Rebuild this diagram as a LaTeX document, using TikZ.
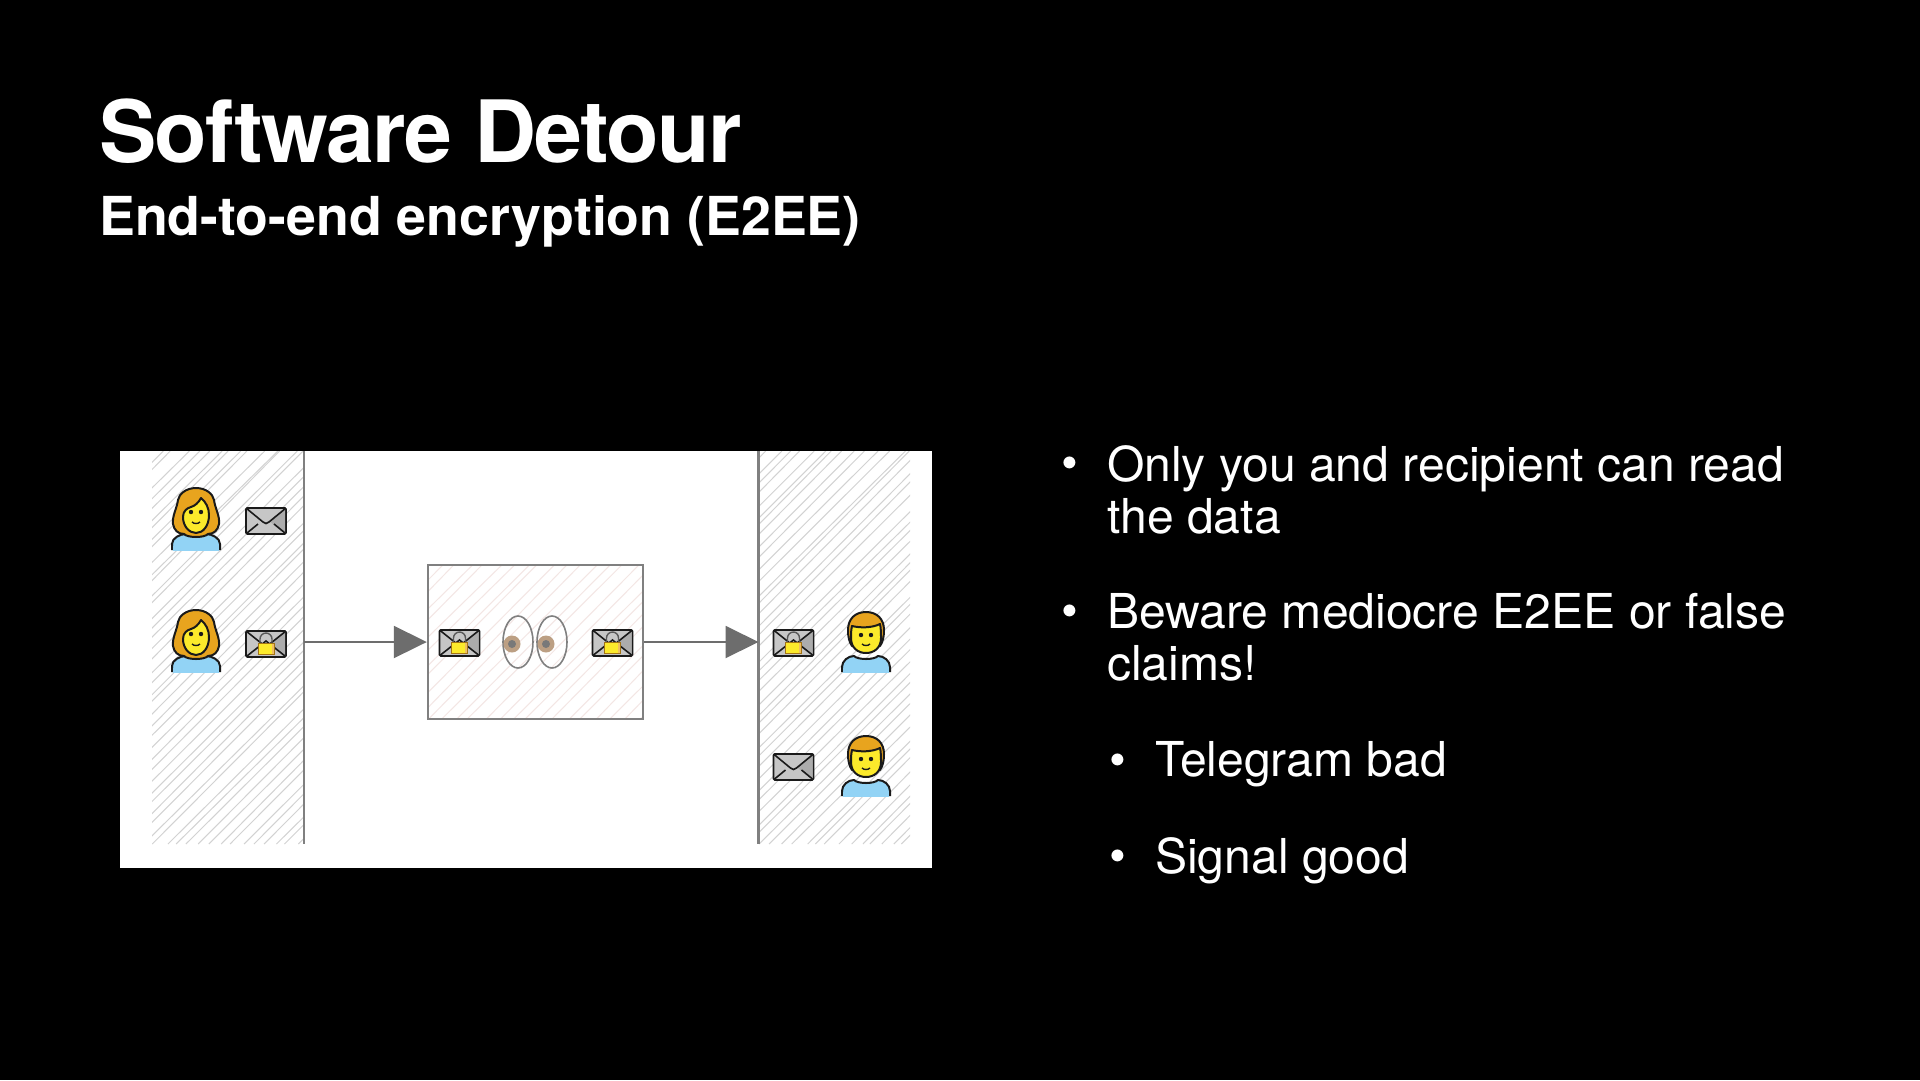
\documentclass[tikz,border=0pt]{standalone}
\usepackage{fontspec}
\setmainfont{TeX Gyre Heros}
\usetikzlibrary{arrows.meta, positioning, shapes.geometric}

\definecolor{hairwoman}{HTML}{E8A41E}
\definecolor{skinface}{HTML}{FCEA2B}
\definecolor{shirtblue}{HTML}{92D3F5}
\definecolor{inkdark}{HTML}{1A1A1A}
\definecolor{wallgray}{HTML}{808080}
\definecolor{hatchgray}{HTML}{D2D2D2}
\definecolor{hatchpink}{HTML}{F3E6E4}

% rough hatching of a zone: x1, y1, x2, y2, colour, spacing
\newcommand{\hatchzone}[6]{
    \begin{scope}
        \clip (#1,#2) rectangle (#3,#4);
        \pgfmathsetmacro{\hatchstart}{#1-(#4-#2)}
        \pgfmathsetmacro{\hatchnext}{\hatchstart+#6}
        \foreach \hx in {\hatchstart,\hatchnext,...,#3} {
            \pgfmathsetmacro{\jitA}{rand*3}
            \pgfmathsetmacro{\jitB}{rand*5}
            \draw[#5, line width=1pt] (\hx+\jitA,#4) -- (\hx+#4-#2+\jitB,#2);
        }
    \end{scope}
}

\begin{document}
\begin{tikzpicture}[
    x=1pt, y=-1pt,
    every node/.style={align=flush left, inner sep=0pt, text=white},
    title/.style={font=\fontsize{86}{96}\selectfont\bfseries\addfontfeature{LetterSpace=-2}},
    subtitle/.style={font=\fontsize{53.7}{62}\selectfont\bfseries},
    item/.style={font=\fontsize{48.1}{52}\selectfont, anchor=north west, text width=700pt},
    dot/.style={font=\fontsize{48}{52}\selectfont, yshift=-12pt},
    server/.style={draw=wallgray, line width=2.4pt, minimum width=215pt, minimum height=154pt},
    flow/.style={draw=wallgray!85!black, line width=2pt, -{Triangle[length=33pt, width=32pt, fill=wallgray!85!black]}},
    wall/.style={draw=wallgray, line width=2.4pt},
    outline/.style={draw=inkdark, line width=2pt, line join=round},
    envelope/.pic={
        \path[fill=gray!45, draw=inkdark, line width=1.8pt, rounded corners=1.5pt] (-20,-13) rectangle (20,13);
        \path[fill=gray!65] (19,-12) -- (3,0) -- (19,12) -- cycle;
        \draw[inkdark, line width=1.6pt] (-20,-13) -- (-3,1) .. controls (-1,3) and (1,3) .. (3,1) -- (20,-13);
        \draw[inkdark, line width=1.6pt] (-19,12) -- (-8,3) (19,12) -- (8,3);
    },
    lockenvelope/.pic={
        \path[fill=gray!45, draw=inkdark, line width=1.8pt, rounded corners=1.5pt] (-20,-13) rectangle (20,13);
        \path[fill=gray!65] (19,-12) -- (3,0) -- (19,12) -- cycle;
        \draw[inkdark, line width=1.6pt] (-20,-13) -- (0,3) -- (20,-13) (-19,12) -- (0,-3) -- (19,12);
        \draw[gray!70!black, line width=1.4pt] (-6,0) -- (-6,-5) arc[start angle=180, end angle=0, radius=6pt] -- (6,0);
        \path[fill=skinface, draw=hairwoman!70!black, line width=1pt] (-8,-1) rectangle (8,10);
        \path[fill=hairwoman!70] (5.5,-0.5) rectangle (7.5,9.5);
    },
    woman/.pic={
        \path[outline, fill=shirtblue] (-24,62) -- (-24,56) .. controls (-24,50) and (-16,46) .. (-10,46) -- (10,46) .. controls (16,46) and (24,50) .. (24,56) -- (24,62);
        \path[fill=shirtblue] (-23,58) rectangle (23,63);
        \path[outline, fill=hairwoman] (0,0) .. controls (10,0) and (17,6) .. (18,12) .. controls (19,20) and (24,28) .. (23,36) .. controls (22,42) and (18,46) .. (12,46) .. controls (8,50) and (-8,50) .. (-12,46) .. controls (-18,46) and (-22,42) .. (-23,36) .. controls (-24,28) and (-19,20) .. (-18,12) .. controls (-17,6) and (-10,0) .. (0,0) -- cycle;
        \path[outline, fill=skinface] (5,10) .. controls (10,14) and (13,20) .. (13,27) .. controls (13,38) and (7,45) .. (0,45) .. controls (-7,45) and (-13,38) .. (-13,29) .. controls (-13,23) and (-9,20) .. (-5,19) .. controls (-1,18) and (3,14) .. (5,10) -- cycle;
        \fill[inkdark] (-5,24) circle[radius=2.2pt] (5,24) circle[radius=2.2pt];
        \draw[inkdark, line width=1.4pt] (-4,34) .. controls (-2,36) and (2,36) .. (4,34);
    },
    man/.pic={
        \path[outline, fill=shirtblue] (-24,60) -- (-24,55) .. controls (-24,49) and (-18,44) .. (-12,44) .. controls (-8,48) and (8,48) .. (12,44) .. controls (18,44) and (24,49) .. (24,55) -- (24,60);
        \path[fill=shirtblue] (-23,56) rectangle (23,61);
        \path[outline, fill=hairwoman] (0,0) .. controls (11,0) and (18,7) .. (18,18) .. controls (18,24) and (17,30) .. (14,34) -- (-14,34) .. controls (-17,30) and (-18,24) .. (-18,18) .. controls (-18,7) and (-11,0) .. (0,0) -- cycle;
        \path[outline, fill=skinface] (-14,14) .. controls (-6,16) and (6,16) .. (14,12) .. controls (15,16) and (15,22) .. (15,26) .. controls (15,36) and (8,41) .. (0,41) .. controls (-8,41) and (-15,36) .. (-15,26) .. controls (-15,22) and (-15,18) .. (-14,14) -- cycle;
        \fill[inkdark] (-5,23) circle[radius=2.2pt] (5,23) circle[radius=2.2pt];
        \draw[inkdark, line width=1.4pt] (-4,32) .. controls (-2,34) and (2,34) .. (4,32);
    },
    spyeye/.pic={
        \draw[wallgray, line width=1.6pt] (0,0) ellipse[x radius=15pt, y radius=26pt];
        \fill[gray!70!orange!75] (-6,2) circle[radius=8.5pt];
        \fill[gray!95!black] (-6,2) circle[radius=4pt];
    }
]
    \useasboundingbox (0,0) rectangle (1920,1080);
    \fill[black] (0,0) rectangle (1920,1080);
    \pgfmathsetseed{42}

    % Headings
    \node[title, anchor=base west] (heading) at (99,162) {Software Detour};
    \node[subtitle, anchor=base west] (subheading) at (99,235) {End-to-end encryption (E2EE)};

    % Panel and zones
    \fill[white] (119.5,451) rectangle (932,868);
    \hatchzone{152}{451}{303}{844}{hatchgray}{11}
    \hatchzone{758}{451}{910}{844}{hatchgray}{11}
    \hatchzone{428}{565}{643}{719}{hatchpink}{14}
    \draw[wall] (303.8,451) -- (303.8,844);
    \draw[wall] (758.5,451) -- (758.5,844);

    % Nodes
    \node[server] (relay) at (535.5,642) {};
    \coordinate (senderedge) at (303.8,642);
    \coordinate (receiveredge) at (758.5,642);

    % Arrows
    \draw[flow] (senderedge) -- (relay.west);
    \draw[flow] (relay.east) -- (receiveredge);

    % People and envelopes
    \pic at (196,488) {woman};
    \pic at (196,610) {woman};
    \pic at (866,612) {man};
    \pic at (866,736) {man};
    \pic at (266,521) {envelope};
    \pic at (266,644) {lockenvelope};
    \pic at (459.5,643) {lockenvelope};
    \pic at (612.5,643) {lockenvelope};
    \pic at (793.5,643) {lockenvelope};
    \pic at (793.5,767) {envelope};
    \pic at (518,642) {spyeye};
    \pic at (552,642) {spyeye};

    % Bullets
    \node[item] (only) at (1107,445) {Only you and recipient can read\\the data};
    \node[item, below=59pt of only] (beware) {Beware mediocre E2EE or false\\claims!};
    \node[item, below=60pt of beware.south west, anchor=north west, xshift=48pt] (telegram) {Telegram bad};
    \node[item, below=50pt of telegram] (signal) {Signal good};
    \node[dot, left=29pt of only.north west, anchor=north east] (dotonly) {•};
    \node[dot, left=29pt of beware.north west, anchor=north east] (dotbeware) {•};
    \node[dot, left=29pt of telegram.north west, anchor=north east] (dottelegram) {•};
    \node[dot, left=29pt of signal.north west, anchor=north east] (dotsignal) {•};
\end{tikzpicture}
\end{document}
